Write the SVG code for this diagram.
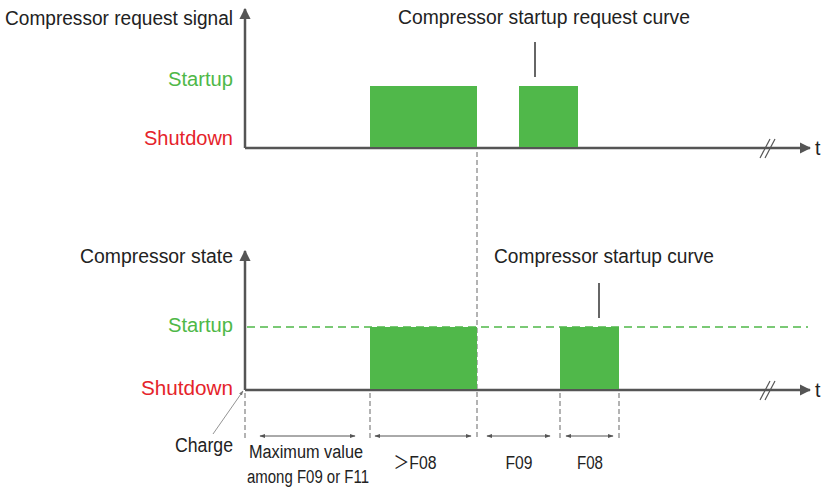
<svg xmlns="http://www.w3.org/2000/svg" width="827" height="490" viewBox="0 0 827 490">
<style>
text{font-family:"Liberation Sans","Noto Sans CJK SC",sans-serif;font-size:19.5px;fill:#222}
.g{fill:#4fb848}
.r{fill:#e5232a}
.axis{stroke:#555;stroke-width:2.5;fill:none}
.gd{stroke:#9a9a9a;stroke-width:1.5;stroke-dasharray:5 3;fill:none}
.grd{stroke:#4fb848;stroke-width:1.4;stroke-dasharray:8 5;fill:none}
.bar{fill:#50b84a}
.tick{stroke:#666;stroke-width:2}
.dim{stroke:#555;stroke-width:1;fill:none;marker-start:url(#ds);marker-end:url(#de)}
.brk{stroke:#555;stroke-width:1.2}
.sm{font-size:18px}
</style>
<defs>
<marker id="ah" viewBox="0 0 10 10" refX="9" refY="5" markerWidth="4.5" markerHeight="4.5" orient="auto" markerUnits="strokeWidth"><path d="M0,0L10,5L0,10z" fill="#555"/></marker>
<marker id="de" viewBox="0 0 10 10" refX="9" refY="5" markerWidth="6" markerHeight="6" orient="auto"><path d="M0,1.5L10,5L0,8.5z" fill="#555"/></marker>
<marker id="ds" viewBox="0 0 10 10" refX="1" refY="5" markerWidth="6" markerHeight="6" orient="auto"><path d="M10,1.5L0,5L10,8.5z" fill="#555"/></marker>
<marker id="ch" viewBox="0 0 10 10" refX="9" refY="5" markerWidth="6" markerHeight="6" orient="auto"><path d="M0,1.5L10,5L0,8.5z" fill="#777"/></marker>
</defs>

<g id="connectors">
<path class="axis" d="M245,148V9" marker-end="url(#ah)"/>
<path class="axis" d="M245,148H810" marker-end="url(#ah)"/>
<path class="axis" d="M245,390V251" marker-end="url(#ah)"/>
<path class="axis" d="M245,390H810" marker-end="url(#ah)"/>
<line class="brk" x1="760" y1="158" x2="770" y2="139"/>
<line class="brk" x1="765" y1="158" x2="775" y2="139"/>
<line class="brk" x1="760" y1="400" x2="770" y2="381"/>
<line class="brk" x1="765" y1="400" x2="775" y2="381"/>
<path class="grd" d="M247,327H808"/>
<path class="gd" d="M477,152V437"/>
<path class="gd" d="M245,393V440"/>
<path class="gd" d="M370,393V440"/>
<path class="gd" d="M560,393V440"/>
<path class="gd" d="M619,393V440"/>
<line class="tick" x1="535" y1="42" x2="535" y2="77"/>
<line class="tick" x1="599" y1="283" x2="599" y2="318"/>
<line x1="213" y1="434" x2="243" y2="391" stroke="#777" stroke-width="0.8" marker-end="url(#ch)"/>
<line class="dim" x1="260" y1="436" x2="355" y2="436"/>
<line class="dim" x1="375" y1="436" x2="471" y2="436"/>
<line class="dim" x1="487" y1="436" x2="550" y2="436"/>
<line class="dim" x1="566" y1="436" x2="613" y2="436"/>
</g>

<g id="top-bar-1"><rect class="bar" x="370" y="86" width="107" height="61"/></g>
<g id="top-bar-2"><rect class="bar" x="519" y="86" width="59" height="61"/></g>
<g id="bottom-bar-1"><rect class="bar" x="370" y="327" width="107" height="62"/></g>
<g id="bottom-bar-2"><rect class="bar" x="560" y="327" width="59" height="62"/></g>

<g id="top-labels">
<text x="233" y="25" text-anchor="end" textLength="228" lengthAdjust="spacingAndGlyphs">Compressor request signal</text>
<text class="g" x="233" y="86" text-anchor="end" textLength="65" lengthAdjust="spacingAndGlyphs">Startup</text>
<text class="r" x="233" y="145" text-anchor="end" textLength="89" lengthAdjust="spacingAndGlyphs">Shutdown</text>
<text x="398" y="24" textLength="292" lengthAdjust="spacingAndGlyphs">Compressor startup request curve</text>
<text x="815" y="155" font-size="22">t</text>
</g>

<g id="bottom-labels">
<text x="233" y="263" text-anchor="end" textLength="153" lengthAdjust="spacingAndGlyphs">Compressor state</text>
<text class="g" x="233" y="332" text-anchor="end" textLength="65" lengthAdjust="spacingAndGlyphs">Startup</text>
<text class="r" x="233" y="395" text-anchor="end" textLength="92" lengthAdjust="spacingAndGlyphs">Shutdown</text>
<text x="494" y="263" textLength="220" lengthAdjust="spacingAndGlyphs">Compressor startup curve</text>
<text x="815" y="397" font-size="22">t</text>
<text x="233" y="452" text-anchor="end" textLength="58" lengthAdjust="spacingAndGlyphs">Charge</text>
</g>

<g id="interval-labels">
<text class="sm" x="306" y="458" text-anchor="middle" textLength="114" lengthAdjust="spacingAndGlyphs">Maximum value</text>
<text class="sm" x="308" y="483" text-anchor="middle" textLength="122" lengthAdjust="spacingAndGlyphs">among F09 or F11</text>
<text class="sm" x="415" y="469" text-anchor="middle" textLength="43" lengthAdjust="spacingAndGlyphs">＞F08</text>
<text class="sm" x="519" y="469" text-anchor="middle" textLength="27" lengthAdjust="spacingAndGlyphs">F09</text>
<text class="sm" x="590" y="469" text-anchor="middle" textLength="26" lengthAdjust="spacingAndGlyphs">F08</text>
</g>
</svg>
